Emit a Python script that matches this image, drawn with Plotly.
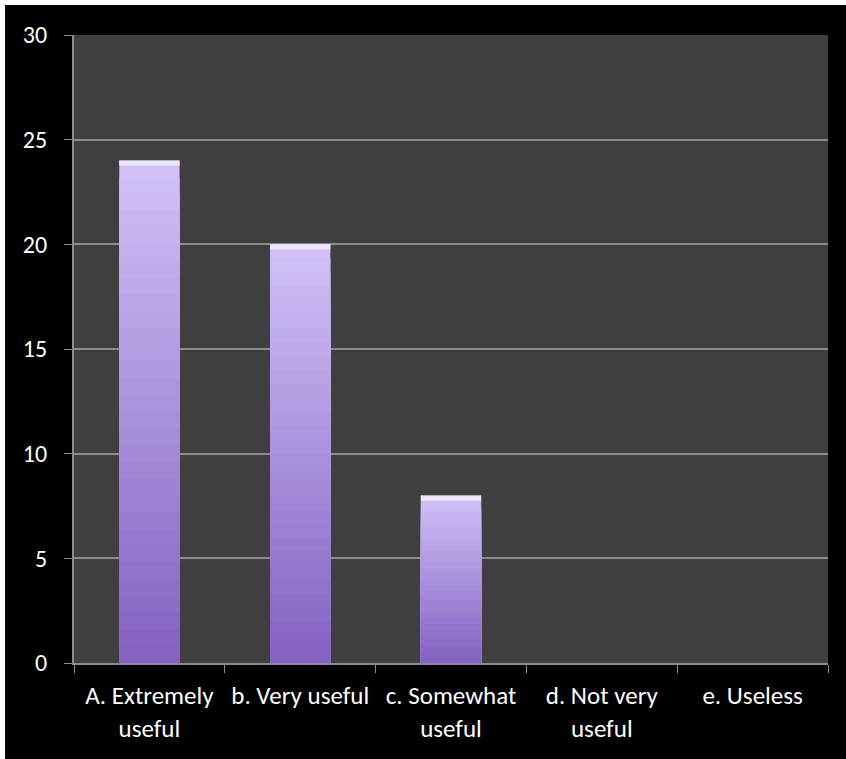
import plotly.graph_objects as go

categories = ["A. Extremely<br>useful", "b. Very useful", "c. Somewhat<br>useful",
              "d. Not very<br>useful", "e. Useless"]
values = [24, 20, 8, 0, 0]
y_ticks = [0, 5, 10, 15, 20, 25, 30]

W, H = 846, 759
ML, MR, MT, MB = 74, 18, 35, 96
PW, PH = W - ML - MR, H - MT - MB

top_rgb = (208, 192, 247)
bot_rgb = (132, 99, 193)
N = 30

fig = go.Figure()
for k in range(N):
    f = 1 - k / N
    t = k / (N - 1)
    c = tuple(round(top_rgb[i] + (bot_rgb[i] - top_rgb[i]) * t) for i in range(3))
    fig.add_trace(go.Bar(
        x=categories, y=[v * f for v in values],
        marker=dict(color="rgb(%d,%d,%d)" % c, line=dict(width=0)),
        width=0.4, showlegend=False, hoverinfo="skip"))

cap = 0.25
fig.add_trace(go.Bar(
    x=categories, y=[cap if v > 0 else 0 for v in values],
    base=[v - cap if v > 0 else 0 for v in values],
    marker=dict(color="#eee6ff", line=dict(width=0)),
    width=0.4, showlegend=False, hoverinfo="skip"))

font_fam = "Carlito, Calibri, Lato, sans-serif"

fig.update_layout(
    width=W, height=H,
    margin=dict(l=ML, r=MR, t=MT, b=MB, pad=0),
    paper_bgcolor="black",
    plot_bgcolor="#3f3f3f",
    barmode="overlay",
    bargap=0.6,
    font=dict(family=font_fam, color="white", size=25),
    xaxis=dict(
        type="category", tickson="boundaries", ticks="outside", ticklen=8,
        tickcolor="#8c8c8c", tickwidth=1, showgrid=False,
        showline=True, linecolor="#8c8c8c", linewidth=2,
        ticklabelstandoff=9,
        tickfont=dict(size=25, color="white", family=font_fam),
        range=[-0.5, 4.5]),
    yaxis=dict(
        range=[0, 30], tickvals=y_ticks, ticks="outside", ticklen=8,
        tickcolor="#8c8c8c", tickwidth=1,
        showgrid=True, gridcolor="#8c8c8c", gridwidth=1.5,
        showline=True, linecolor="#8c8c8c", linewidth=2,
        zeroline=False, ticklabelstandoff=12,
        tickfont=dict(size=24, color="white", family=font_fam)),
    shapes=[
        dict(type="rect", xref="paper", yref="paper",
             x0=-ML / PW, x1=(W - ML) / PW, y0=1 + (MT - 5) / PH, y1=1 + MT / PH,
             fillcolor="white", line=dict(width=0), layer="above"),
        dict(type="rect", xref="paper", yref="paper",
             x0=-ML / PW, x1=(5 - ML) / PW, y0=-MB / PH, y1=1 + MT / PH,
             fillcolor="white", line=dict(width=0), layer="above"),
    ],
)

fig.write_html(
    "out.html",
    config={"displayModeBar": False},
    post_script=("document.body.style.margin='0';document.body.style.padding='0';"
                 "document.body.style.background='black';"
                 "document.documentElement.style.background='black';"))
